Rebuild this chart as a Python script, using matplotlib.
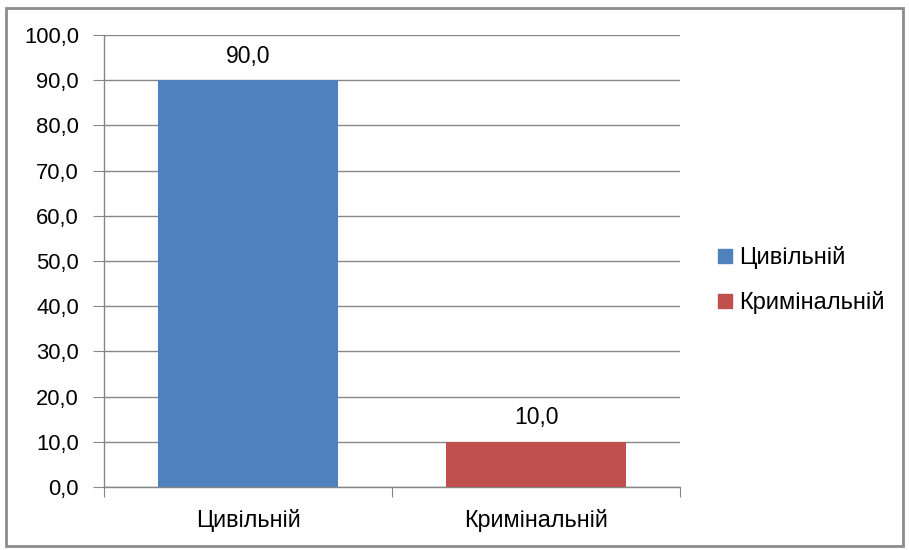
import matplotlib.pyplot as plt
from matplotlib.patches import Rectangle
from matplotlib.lines import Line2D

categories = ['Цивільній', 'Кримінальній']
values = [90.0, 10.0]
colors = ['#4F81BD', '#C0504D']
y_ticks = [0, 10, 20, 30, 40, 50, 60, 70, 80, 90, 100]

plt.rcParams['font.family'] = ['Liberation Sans', 'DejaVu Sans']

fig = plt.figure(figsize=(9.09, 5.5), dpi=100)
ax = fig.add_axes([104/909, 63/550, 576/909, 452/550])

x = range(len(categories))
ax.bar(x, values, width=0.625, color=colors, zorder=3)
for i, v in enumerate(values):
    ax.annotate(('%.1f' % v).replace('.', ','), (i, v), xytext=(0, 9),
                textcoords='offset points', ha='center', va='bottom', fontsize=16.5)

ax.set_xlim(-0.5, len(categories) - 0.5)
ax.set_ylim(0, 100)
ax.set_yticks(y_ticks)
ax.set_yticklabels([('%.1f' % t).replace('.', ',') for t in y_ticks], fontsize=15.8)
ax.yaxis.grid(True, color='#868686', linewidth=1, zorder=0)

# category boundaries get the tick marks, labels sit in the middle
ax.set_xticks([-0.5, 0.5, 1.5])
ax.set_xticklabels([])
ax.set_xticks(list(x), minor=True)
ax.set_xticklabels(categories, minor=True, fontsize=16.8)
ax.tick_params(axis='x', which='major', length=7, color='#868686', direction='out')
ax.tick_params(axis='x', which='minor', length=0, pad=16)
ax.tick_params(axis='y', length=8, color='#868686', pad=10)

for s in ['top', 'right']:
    ax.spines[s].set_visible(False)
for s in ['left', 'bottom']:
    ax.spines[s].set_color('#868686')
    ax.spines[s].set_linewidth(1)

handles = [Line2D([], [], marker='s', linestyle='none', markersize=10,
                  markerfacecolor=c, markeredgecolor=c) for c in colors]
fig.legend(handles, categories, loc='center left', bbox_to_anchor=(706/909, 1 - 280/550),
           frameon=False, fontsize=17, handlelength=0.6, handletextpad=0.3,
           labelspacing=0.95, borderpad=0)

fig.patches.append(Rectangle((6/909, 4/550), 897/909, 538/550, transform=fig.transFigure,
                             fill=False, edgecolor='#8c8c8c', linewidth=2))

plt.savefig('out.png', dpi=100)
